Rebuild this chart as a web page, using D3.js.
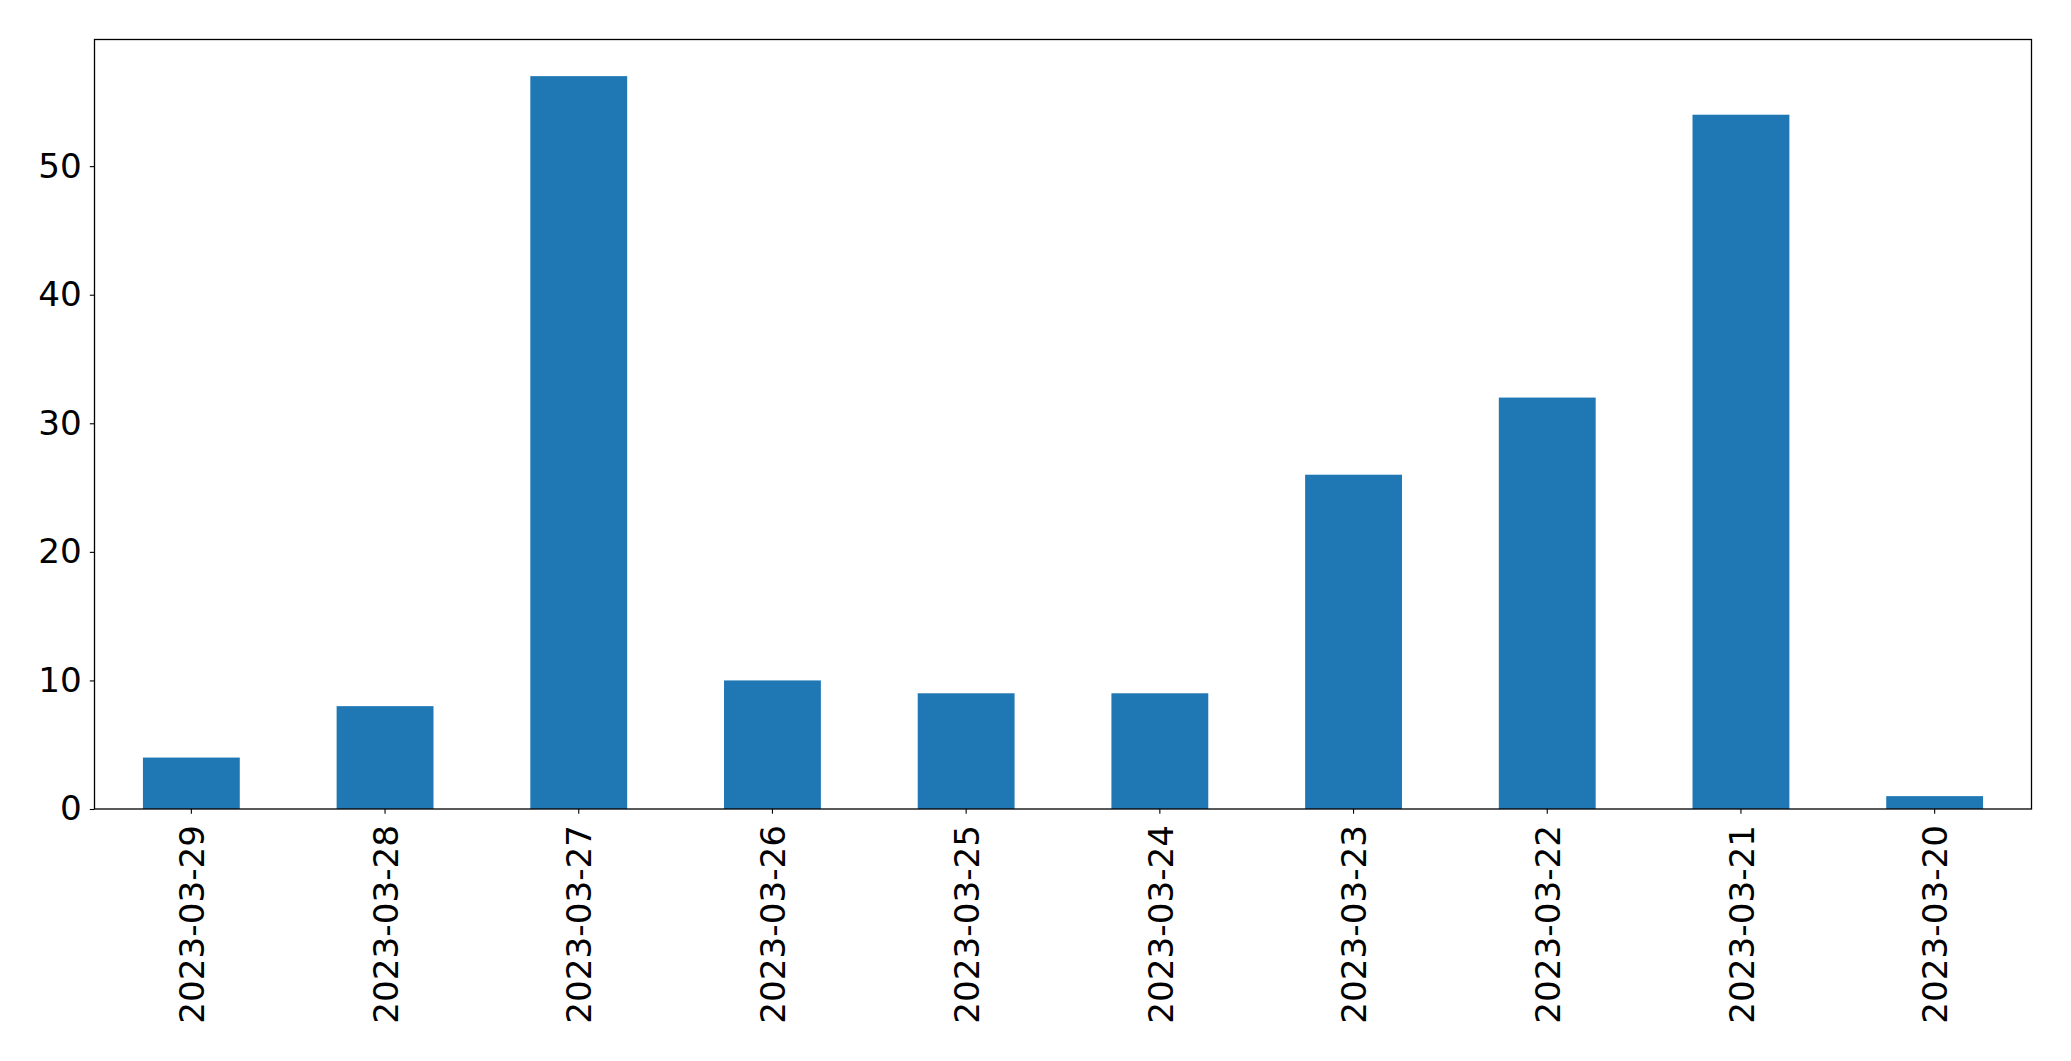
<!DOCTYPE html>
<html><head><meta charset="utf-8">
<script src="https://cdn.jsdelivr.net/npm/d3@7"></script>
<style>html,body{margin:0;padding:0;background:#fff;} svg{display:block;}</style>
</head><body>
<script>
const categories = ["2023-03-29","2023-03-28","2023-03-27","2023-03-26","2023-03-25","2023-03-24","2023-03-23","2023-03-22","2023-03-21","2023-03-20"];
const values = [4, 8, 57, 10, 9, 9, 26, 32, 54, 1];
const yTicks = [0, 10, 20, 30, 40, 50];

const W = 2071, H = 1061;
const mL = 94.5, mR = 2031.5, mT = 39.5, mB = 809;
const font = "DejaVu Sans";
const fs = 34.2;

const svg = d3.select("body").append("svg").attr("width", W).attr("height", H);

const x = d3.scaleBand().domain(categories).range([mL, mR]).paddingInner(0.5).paddingOuter(0.25);
const y = d3.scaleLinear().domain([0, d3.max(values) * 1.05]).range([mB, mT]);

svg.append("g").selectAll("rect").data(values).join("rect")
  .attr("x", (d, i) => x(categories[i]))
  .attr("width", x.bandwidth())
  .attr("y", d => y(d))
  .attr("height", d => y(0) - y(d))
  .attr("fill", "#1f77b4");

// y axis
const ya = svg.append("g").attr("transform", `translate(${mL},0)`)
  .call(d3.axisLeft(y).tickValues(yTicks).tickSize(4.7).tickPadding(8).tickFormat(d3.format("d")));
ya.select(".domain").remove();
ya.selectAll("line").attr("stroke", "#000").attr("stroke-width", 1.1);
ya.selectAll("text").attr("font-family", font).attr("font-size", fs).attr("fill", "#000");

// x axis
const xa = svg.append("g").attr("transform", `translate(0,${mB})`)
  .call(d3.axisBottom(x).tickSize(4.7).tickPadding(0));
xa.select(".domain").remove();
xa.selectAll("line").attr("stroke", "#000").attr("stroke-width", 1.1);
xa.selectAll("text")
  .attr("font-family", font).attr("font-size", fs).attr("fill", "#000")
  .attr("text-anchor", "end")
  .attr("dy", null)
  .attr("y", 0)
  .attr("transform", `translate(${0.37 * fs},16) rotate(-90)`);

// frame
svg.append("rect").attr("x", mL).attr("y", mT).attr("width", mR - mL).attr("height", mB - mT)
  .attr("fill", "none").attr("stroke", "#000").attr("stroke-width", 1.3);
</script>
</body></html>
